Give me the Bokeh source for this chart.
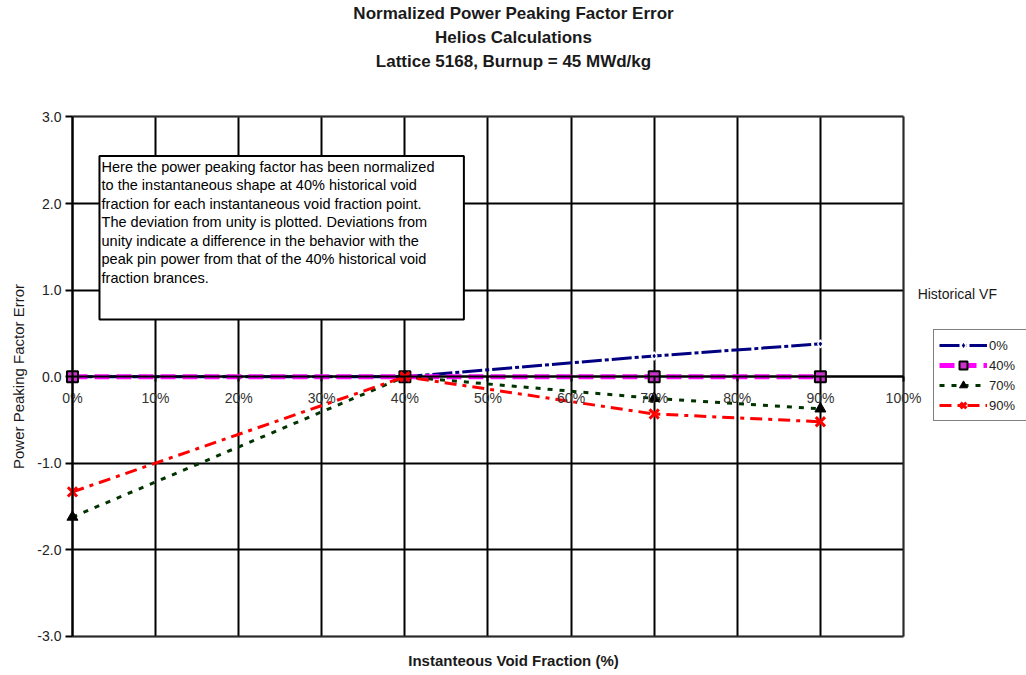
from bokeh.plotting import figure
from bokeh.models import (Range1d, Label, BoxAnnotation, Legend, LegendItem, Title,
                          PrintfTickFormatter, FixedTicker)
from bokeh.embed import file_html
from bokeh.resources import INLINE

# ---- data ----
instant_vf = [0, 40, 70, 90]
hist_0 = [0.0, 0.0, 0.24, 0.38]
hist_40 = [0.0, 0.0, 0.0, 0.0]
hist_70 = [-1.62, 0.0, -0.25, -0.37]
hist_90 = [-1.33, 0.0, -0.43, -0.52]
series_names = ["0%", "40%", "70%", "90%"]
x_ticks = [0, 10, 20, 30, 40, 50, 60, 70, 80, 90, 100]
y_ticks = [-3, -2, -1, 0, 1, 2, 3]
title_lines = ["Normalized Power Peaking Factor Error", "Helios Calculations",
               "Lattice 5168, Burnup = 45 MWd/kg"]
x_title = "Instanteous Void Fraction (%)"
y_title = "Power Peaking Factor Error"
legend_title = "Historical VF"
note = ("Here the power peaking factor has been normalized\n"
        "to the instantaneous shape at 40% historical void\n"
        "fraction for each instantaneous void fraction point.\n"
        "The deviation from unity is plotted. Deviations from\n"
        "unity indicate a difference in the behavior with the\n"
        "peak pin power from that of the 40% historical void\n"
        "fraction brances.")

FONT = "Liberation Sans"
X0, X1 = 0, 100
Y0, Y1 = -3, 3

p = figure(width=1026, height=675, x_range=Range1d(-8.66, 114.8), y_range=Range1d(-3.1155, 3.537),
           output_backend="svg", toolbar_location=None,
           min_border_left=0, min_border_right=0, min_border_top=70, min_border_bottom=29,
           background_fill_color="white", border_fill_color="white")
p.outline_line_color = None

# titles (added nearest-first)
for txt, so in [(title_lines[2], 0), (title_lines[1], 6), (title_lines[0], 0)]:
    p.add_layout(Title(text=txt, align="center", text_font=FONT, text_font_size="17px",
                       text_font_style="bold", text_color="#1a1a1a", standoff=so), "above")

p.add_layout(Title(text=x_title, align="center", text_font=FONT, text_font_size="15px",
                   text_font_style="bold", text_color="#1a1a1a", standoff=6, offset=-24), "below")

# grid
p.xgrid.ticker = FixedTicker(ticks=x_ticks)
p.ygrid.ticker = FixedTicker(ticks=y_ticks)
p.xgrid.cross_bounds = (Y0, Y1)
p.ygrid.cross_bounds = (X0, X1)
for g in (p.xgrid, p.ygrid):
    g.grid_line_color = "black"
    g.grid_line_width = 2

# plot-area outline (grey top / right like the source)
p.add_layout(BoxAnnotation(left=X0, right=X1, bottom=Y0, top=Y1, fill_alpha=0,
                           line_color="#8a8a8a", line_width=2, level="underlay"))

# x axis at zero line
xa = p.xaxis[0]
xa.fixed_location = 0
xa.bounds = (X0, X1)
xa.ticker = FixedTicker(ticks=x_ticks)
xa.formatter = PrintfTickFormatter(format="%d%%")
xa.major_label_text_font = FONT
xa.major_label_text_font_size = "14px"
xa.major_label_text_color = "#333333"
xa.major_tick_out = 5
xa.major_tick_in = 0
xa.minor_tick_out = 0
xa.minor_tick_in = 0
xa.major_label_standoff = 8
xa.axis_line_color = "black"
xa.axis_line_width = 2
xa.major_tick_line_width = 2

ya = p.yaxis[0]
ya.fixed_location = 0
ya.bounds = (Y0, Y1)
ya.ticker = FixedTicker(ticks=y_ticks)
ya.formatter = PrintfTickFormatter(format="%.1f")
ya.major_label_text_font = FONT
ya.major_label_text_font_size = "14px"
ya.major_label_text_color = "#222222"
ya.major_tick_out = 7
ya.major_tick_in = 0
ya.minor_tick_out = 0
ya.minor_tick_in = 0
ya.major_label_standoff = 4
ya.axis_line_color = "black"
ya.axis_line_width = 2
ya.major_tick_line_width = 2
ya.axis_label = y_title
ya.axis_label_text_font = FONT
ya.axis_label_text_font_size = "15px"
ya.axis_label_text_font_style = "normal"
ya.axis_label_text_color = "#1a1a1a"
ya.axis_label_standoff = 7

# series
r0l = p.line(instant_vf, hist_0, line_color="#000080", line_width=3, line_dash="20 3 4 3")
r0m = p.scatter(instant_vf, hist_0, marker="diamond", size=8, fill_color="#000080", line_color="white", line_width=1.5)

r40l = p.line(instant_vf, hist_40, line_color="#FF00FF", line_width=5, line_dash="15 7")
r40m = p.scatter(instant_vf, hist_40, marker="square", size=11, fill_color="#CC33CC", line_color="black", line_width=2)

r70l = p.line(instant_vf, hist_70, line_color="#003300", line_width=3, line_dash="5 7")
r70m = p.scatter(instant_vf, hist_70, marker="triangle", size=11, fill_color="black", line_color="black")

r90l = p.line(instant_vf, hist_90, line_color="#FF0000", line_width=3, line_dash="12 6 4 6")
r90m = p.scatter(instant_vf, hist_90, marker="x", size=13, line_color="#FF0000", line_width=3)

# annotation box
p.add_layout(BoxAnnotation(left=3.25, right=47.1, top=2.55, bottom=0.66, fill_color="white", fill_alpha=1.0,
                           line_color="black", line_width=2, line_alpha=1.0))
p.add_layout(Label(x=3.5, y=2.52, text=note, text_font=FONT, text_font_size="14.5px",
                   text_baseline="top", text_align="left", text_color="black",
                   text_line_height=1.16))

p.add_layout(Label(x=101.7, y=0.96, text=legend_title, text_font=FONT, text_font_size="14px",
                   text_baseline="middle", text_align="left", text_color="#1a1a1a"))

legend = Legend(items=[LegendItem(label=series_names[0], renderers=[r0l, r0m]),
                       LegendItem(label=series_names[1], renderers=[r40l, r40m]),
                       LegendItem(label=series_names[2], renderers=[r70l, r70m]),
                       LegendItem(label=series_names[3], renderers=[r90l, r90m])],
                location=(933, 225), border_line_color="black", border_line_width=1.5,
                label_text_font=FONT, label_text_font_size="13px", label_text_color="#222222",
                glyph_width=48, glyph_height=20, label_height=20, label_width=45, spacing=0, padding=5,
                label_standoff=2, margin=0, background_fill_alpha=1.0)
p.add_layout(legend, "center")

open("out.html", "w").write(file_html(p, INLINE))
